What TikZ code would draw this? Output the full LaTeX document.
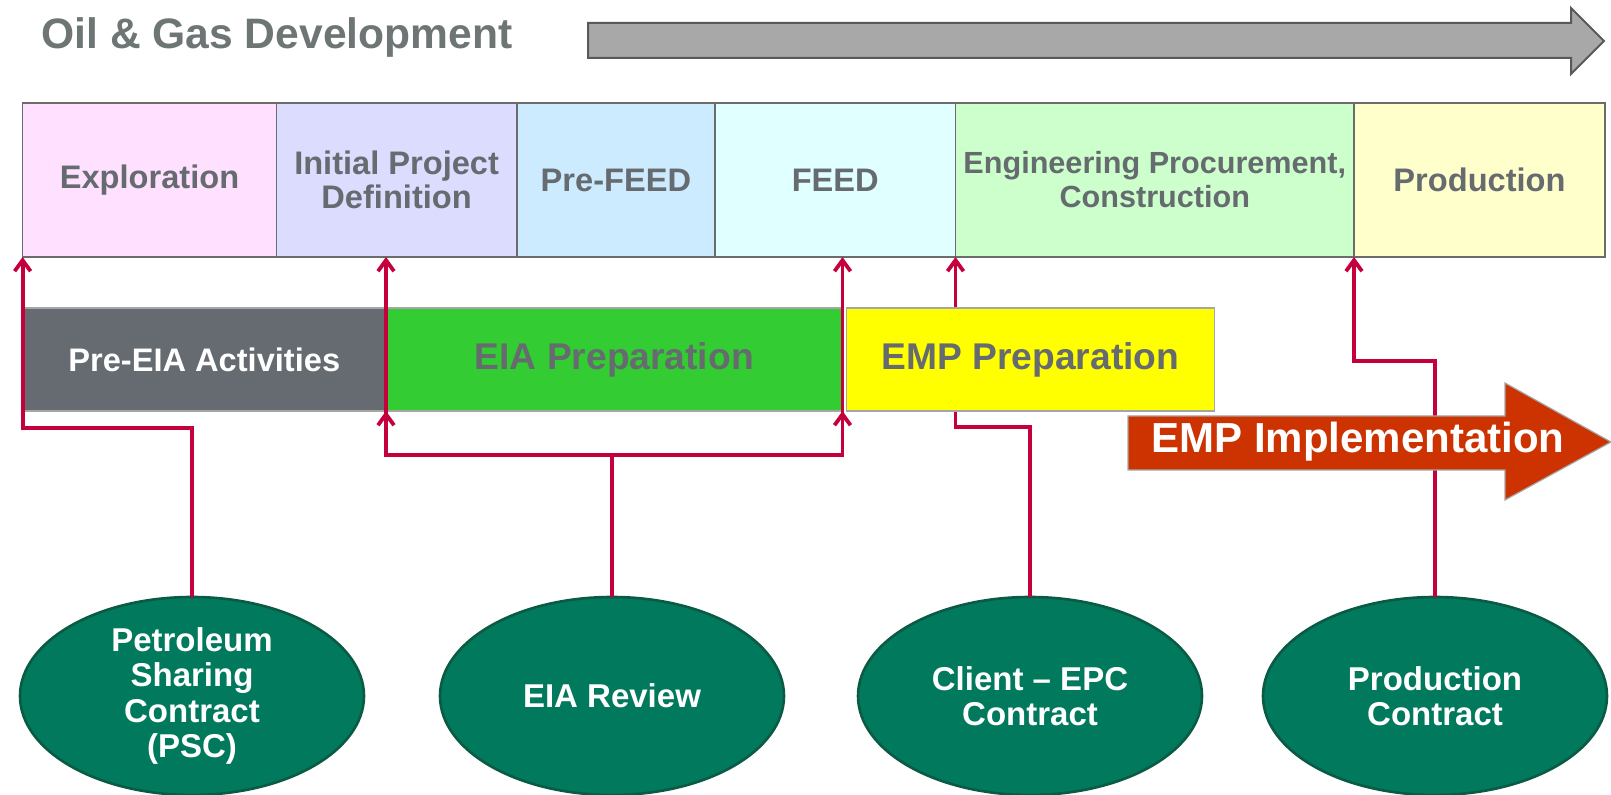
\documentclass[tikz,border=0pt]{standalone}
\usepackage{fontspec}
\setmainfont{Liberation Sans}
\usetikzlibrary{shapes.geometric,arrows.meta}

\definecolor{boxtext}{HTML}{666B70}
\definecolor{titlegray}{HTML}{6E7575}
\definecolor{linkred}{HTML}{C4003D}
\definecolor{ovalgreen}{HTML}{00795C}
\definecolor{ovaledge}{HTML}{0A5A44}
\definecolor{emporange}{HTML}{CC3300}
\definecolor{eiagreen}{HTML}{33CC33}
\definecolor{preeiagray}{HTML}{656B70}
\definecolor{empyellow}{HTML}{FFFF00}
\definecolor{explofill}{HTML}{FFE0FF}
\definecolor{ipdfill}{HTML}{DCDCFF}
\definecolor{prefeedfill}{HTML}{CCEBFF}
\definecolor{feedfill}{HTML}{E0FFFF}
\definecolor{epcfill}{HTML}{CCFFCC}
\definecolor{prodfill}{HTML}{FFFFCC}

\tikzset{
  phase/.style = {draw=gray!85!black, line width=0.7pt, inner sep=0pt, outer sep=0pt,
    anchor=north west, minimum height=77pt, align=center, text=boxtext,
    font=\bfseries\fontsize{16.3}{17}\selectfont},
  stage/.style = {draw=gray!70, line width=0.7pt, inner sep=0pt, outer sep=0pt,
    anchor=north west, minimum height=51.5pt, text=boxtext,
    font=\bfseries\fontsize{18.6}{20}\selectfont},
  contract/.style = {ellipse, fill=ovalgreen, draw=ovaledge, line width=1.3pt,
    minimum width=172pt, minimum height=99pt, inner sep=0pt, outer sep=0pt,
    align=center, text=white, font=\bfseries\fontsize{16.5}{17.7}\selectfont},
  link/.style = {linkred, line width=1.9pt},
  linkarrow/.style = {link, -{Straight Barb[length=5.5pt,width=8pt]}},
}

\begin{document}
\begin{tikzpicture}[x=0.5pt, y=-0.5pt]
\useasboundingbox (0,0) rectangle (1611,795);

% title and timeline arrow
\node[anchor=west, inner sep=0pt, text=titlegray, font=\bfseries\fontsize{21.3}{25}\selectfont] (title) at (41,37) {Oil \& Gas Development};
\draw[draw=gray!70!black, fill=gray!68, line width=1pt] (588,23) -- (1571,23) -- (1571,8) -- (1604,41) -- (1571,74) -- (1571,58) -- (588,58) -- cycle;

% project phases
\node[phase, fill=explofill, minimum width=126.9pt] (explo) at (22.6,103) {Exploration};
\node[phase, fill=ipdfill, minimum width=120.2pt] (ipd) at (276.4,103) {Initial Project\\Definition};
\node[phase, fill=prefeedfill, minimum width=99.1pt] (prefeed) at (516.8,103) {Pre-FEED};
\node[phase, fill=feedfill, minimum width=120.25pt] (feed) at (715,103) {FEED};
\node[phase, fill=epcfill, minimum width=199.25pt, font=\bfseries\fontsize{15.3}{17}\selectfont] (epc) at (955.5,103) {Engineering Procurement,\\Construction};
\node[phase, fill=prodfill, minimum width=125.5pt] (prod) at (1354,103) {Production};

% contracts
\node[contract] (psc) at (192,696) {Petroleum\\Sharing\\Contract\\(PSC)};
\node[contract] (eiarev) at (612,696) {EIA Review};
\node[contract] (clientepc) at (1030,696) {Client -- EPC\\Contract};
\node[contract] (prodcon) at (1435,696) {Production\\Contract};

% links passing behind the boxes
\draw[linkarrow] (clientepc.north) |- (epc.south west |- 0,427) -- (epc.south west);
\draw[linkarrow] (prodcon.north) |- (prod.south west |- 0,361) -- (prod.south west);

% environmental stages
\node[stage, fill=preeiagray, text=white, minimum width=181.7pt, font=\bfseries\fontsize{16.3}{18}\selectfont] (preeia) at (22.6,308) {Pre-EIA Activities};
\node[stage, fill=eiagreen, minimum width=228.25pt] (eiaprep) at (386,308) {EIA Preparation};
\node[stage, fill=empyellow, minimum width=183.9pt] (empprep) at (846.6,308) {EMP Preparation};

\fill[emporange, draw=gray!70, line width=0.6pt] (1128,416) -- (1505,416) -- (1505,383) -- (1611,442) -- (1505,500) -- (1505,470) -- (1128,470) -- cycle;
\node[text=white, font=\bfseries\fontsize{21}{25}\selectfont] (empimpl) at (1358,442) {EMP Implementation};

% links in front of the boxes
\draw[linkarrow] (psc.north) |- (explo.south west |- 0,428) -- (explo.south west);
\draw[link] (eiarev.north) -- (eiarev.north |- 0,455);
\draw[linkarrow] (eiaprep.south west |- 0,455) -- (eiaprep.south east |- 0,455) -- (eiaprep.south east |- feed.south);
\draw[linkarrow] (eiaprep.south east |- 0,455) -- (eiaprep.south west |- 0,455) -- (eiaprep.south west |- ipd.south);
\draw[linkarrow] (eiaprep.south west |- 0,455) -- (eiaprep.south west); %arrow at stage bottom
\draw[linkarrow] (eiaprep.south east |- 0,455) -- (eiaprep.south east);
\end{tikzpicture}
\end{document}
